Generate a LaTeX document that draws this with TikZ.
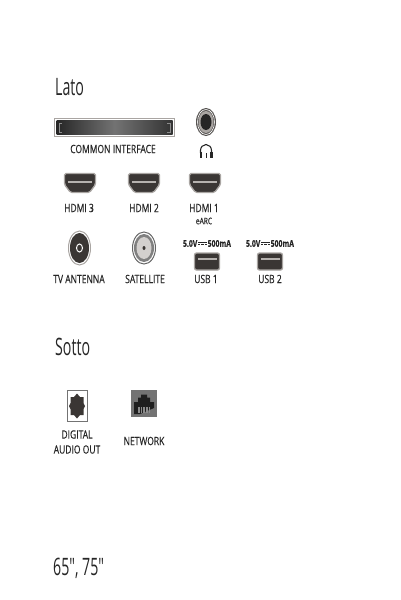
\documentclass[tikz,border=0pt]{standalone}
\usepackage{fontspec}
\setmainfont[FakeStretch=0.74, FakeBold=0.35]{Open Sans}
\newfontfamily\titlefont[FakeStretch=0.59, Ligatures=NoCommon]{Open Sans}
\usetikzlibrary{calc}

\definecolor{portdark}{HTML}{3A3634}
\definecolor{portrim}{HTML}{A9A5A2}
\definecolor{portlight}{HTML}{B5B1AE}

% 直流符号
\newcommand{\dcsign}{\kern0.7pt\rlap{\rule[4pt]{9pt}{0.8pt}}\rule[1.6pt]{2.4pt}{0.8pt}\kern0.9pt\rule[1.6pt]{2.4pt}{0.8pt}\kern0.9pt\rule[1.6pt]{2.4pt}{0.8pt}\kern0.7pt}

\tikzset{
  title/.style={font=\titlefont\fontsize{24}{26}\selectfont, anchor=west, text=black!85, inner sep=0pt},
  portlabel/.style={font=\fontsize{11.5}{13}\selectfont, text=black!85, inner sep=0pt},
  smalllabel/.style={font=\fontsize{9}{11}\selectfont, text=black!85, inner sep=0pt},
  powerlabel/.style={font=\bfseries\fontsize{9.3}{11}\selectfont, text=black!85, inner sep=0pt},
  rim/.style={draw=portrim, line width=1.3pt},
  % HDMI 接口
  hdmiport/.pic={
    \draw[rim, fill=portdark, rounded corners=1.5pt]
      (-15.5,-9.5) -- (15.5,-9.5) -- (15.5,1.5) -- (9.5,9.5) -- (-9.5,9.5) -- (-15.5,1.5) -- cycle;
    \fill[portlight] (-12,-2.5) rectangle (12,-0.5);
  },
  % USB 接口
  usbport/.pic={
    \draw[rim, fill=portdark, rounded corners=2pt] (-12.5,-8.5) rectangle (12.5,8.5);
    \fill[portlight] (-9.5,-4) rectangle (9.5,-1.5);
  },
}

\begin{document}
\begin{tikzpicture}[x=1pt, y=-1pt]
\useasboundingbox (0,0) rectangle (400,600);

% 标题
\node[title] (lato) at (55,87) {Lato};
\node[title] (sotto) at (55,347) {Sotto};
\node[title] (size) at (53,568) {65\char"0022, 75\char"0022};

% COMMON INTERFACE
\draw[rim, fill=white] (54.5,118.5) rectangle (174.5,136.5);
\shade[left color=black!85, right color=black!80, middle color=black!55] (56.5,120.5) rectangle (172.5,134.5);
\draw[black!45, line width=0.8pt] (62,123) -- (59,123) -- (59,132) -- (62,132);
\draw[black!45, line width=0.8pt] (167,123) -- (170,123) -- (170,132) -- (167,132);
\node[portlabel] (ci) at (113,149) {COMMON INTERFACE};

% 耳机插孔
\fill[portdark!85] (206,122) ellipse (10 and 14);
\draw[white, line width=0.6pt] (206,122) ellipse (8.5 and 12.5);
\fill[portrim] (206,122) ellipse (7.5 and 11);
\fill[black!85] (206,122) ellipse (5.5 and 8);
\draw[black!85, line width=1.1pt] (200.5,153) -- (200.5,150.5) arc[x radius=5.5, y radius=6, start angle=180, end angle=360] -- (211.5,153);
\fill[black!85] (199.5,151.5) rectangle (202.2,158);
\fill[black!85] (209.8,151.5) rectangle (212.5,158);
\draw[black!85, line width=0.9pt] (206,153) -- (206,158);

% HDMI
\pic at (80,183) {hdmiport};
\pic at (144,183) {hdmiport};
\pic at (205,183) {hdmiport};
\node[portlabel] (hdmi3) at (79,208) {HDMI 3};
\node[portlabel] (hdmi2) at (144,208) {HDMI 2};
\node[portlabel] (hdmi1) at (204,208) {HDMI 1};
\node[smalllabel] (earc) at (204,221) {eARC};

% TV ANTENNA
\draw[portrim, fill=white, line width=1pt] (79.5,248) ellipse (11 and 17);
\fill[portdark] (79.5,248) ellipse (9.5 and 15);
\draw[white, line width=1pt] (79.5,248) ellipse (3 and 4);
\node[portlabel] (antenna) at (79,279) {TV ANTENNA};

% SATELLITE
\draw[black!60, fill=white, line width=1pt] (144,248) ellipse (11.5 and 16);
\fill[black!50] (144,248) ellipse (10 and 14);
\fill[portlight!60] (144,248) ellipse (7.5 and 11);
\fill[portdark] (144,248) ellipse (1.5 and 2);
\node[portlabel] (satellite) at (145,279) {SATELLITE};

% USB
\pic at (207,261.5) {usbport};
\pic at (270,261.5) {usbport};
\node[powerlabel] (power1) at (207,243.5) {5.0V\dcsign500mA};
\node[powerlabel] (power2) at (270,243.5) {5.0V\dcsign500mA};
\node[portlabel] (usb1) at (206,279) {USB 1};
\node[portlabel] (usb2) at (270,279) {USB 2};

% DIGITAL AUDIO OUT
\draw[black!55, fill=white, line width=0.8pt] (67,390.5) rectangle (87.5,421.5);
\fill[portdark] (77,393.5) -- (80,397) -- (83.5,397) -- (83.5,403) -- (85,406) -- (83.5,409) -- (83.5,415) -- (80,415) -- (77,418.5) -- (74,415) -- (70.5,415) -- (70.5,409) -- (69,406) -- (70.5,403) -- (70.5,397) -- (74,397) -- cycle;
\node[portlabel] (digital) at (77,434.5) {DIGITAL};
\node[portlabel] (audioout) at (77,449.5) {AUDIO OUT};

% NETWORK
\fill[black!55] (131,390) rectangle (157,417);
\fill[black!88] (134,412) -- (134,402) -- (138,402) -- (138,397.5) -- (141,397.5) -- (141,394.5) -- (147,394.5) -- (147,397.5) -- (150,397.5) -- (150,402) -- (154,402) -- (154,408) -- (140,414) -- (134,414) -- cycle;
\foreach \i in {0,...,7} {
  \draw[black!45, line width=0.5pt] ({138+\i*1.6},407) -- ({138+\i*1.6},413);
}
\node[portlabel] (network) at (144,441) {NETWORK};

\end{tikzpicture}
\end{document}
